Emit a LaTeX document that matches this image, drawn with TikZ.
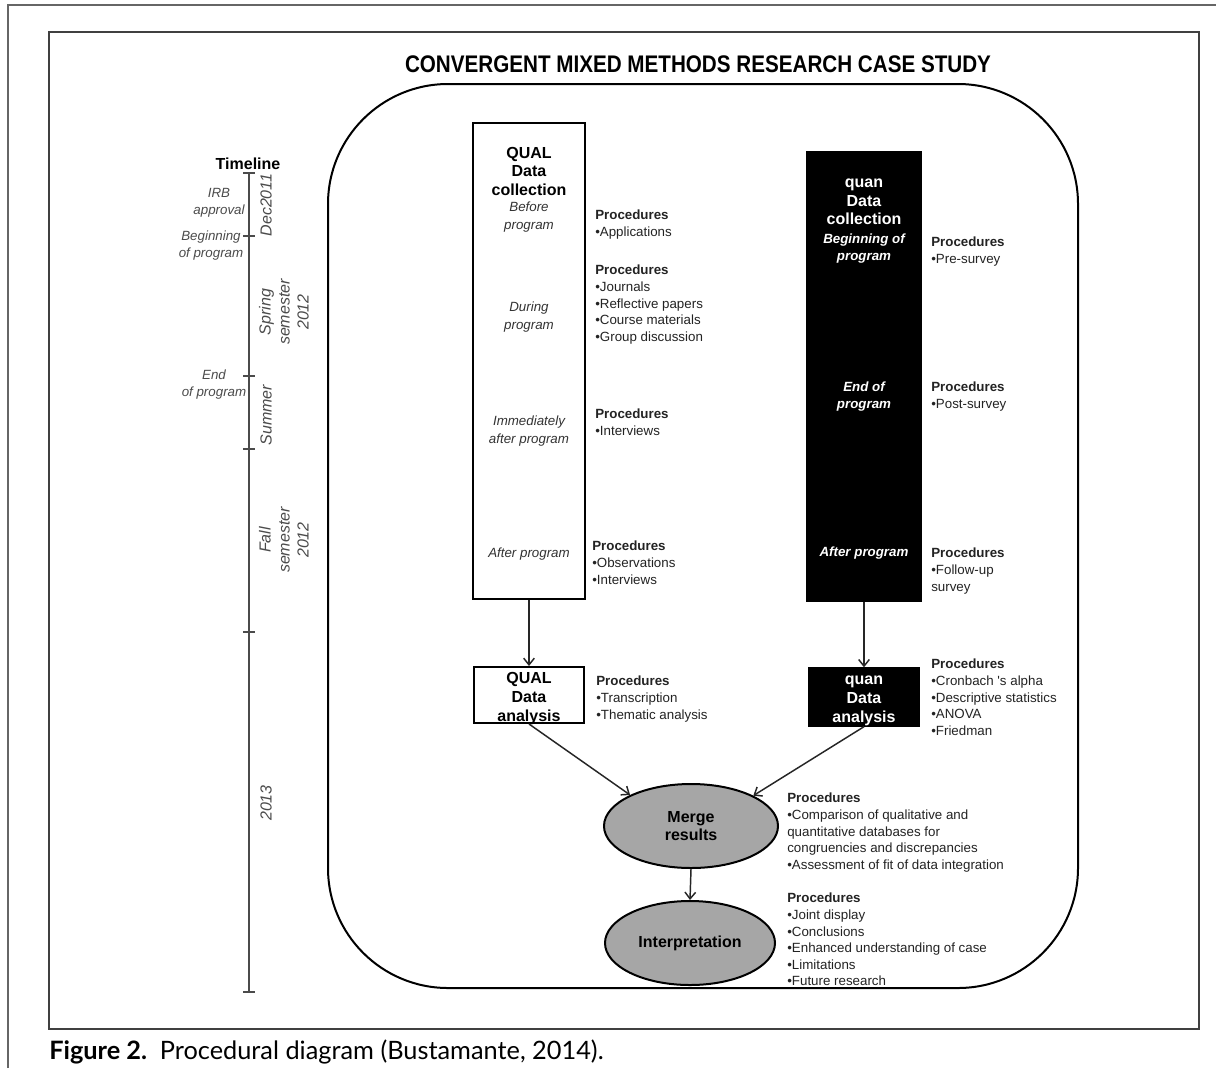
\documentclass[tikz,border=0pt]{standalone}
\usepackage{fontspec}
\setmainfont{Liberation Sans}
\newfontfamily\captionfam{Lato}
\usetikzlibrary{arrows.meta,shapes.geometric}
\definecolor{ellgray}{RGB}{166,166,166}
\definecolor{tlgray}{RGB}{75,75,75}
\definecolor{ink}{RGB}{35,35,35}

\begin{document}
\begin{tikzpicture}[x=0.75pt,y=-0.75pt,
  proc/.style={anchor=north west, inner sep=0pt, align=left, text=ink,
               font=\fontsize{10}{12.4}\selectfont},
  stage/.style={anchor=north, inner sep=0pt, align=center, text=black!80,
               font=\fontsize{10}{13}\selectfont\itshape},
  qstage/.style={anchor=north, inner sep=0pt, align=center, text=white,
               font=\fontsize{10}{12.6}\selectfont\bfseries\itshape},
  heading/.style={anchor=north, inner sep=0pt, align=center,
               font=\fontsize{12}{13.9}\selectfont\bfseries},
  qualbox/.style={draw=black, line width=1.5pt, fill=white, inner sep=0pt},
  quanbox/.style={draw=black, line width=1pt, fill=black, inner sep=0pt},
  antext/.style={anchor=north, inner sep=0pt, align=center,
               font=\fontsize{12}{14.25}\selectfont\bfseries},
  result/.style={ellipse, draw=black, line width=1.5pt, fill=ellgray, inner sep=0pt,
               align=center, font=\fontsize{12}{13.5}\selectfont\bfseries},
  flow/.style={draw=black!85, line width=1.1pt, -{Straight Barb[length=5pt,width=8pt]}},
  tl/.style={inner sep=0pt, align=center, text=tlgray,
               font=\fontsize{10}{12.6}\selectfont\itshape},
  tlr/.style={inner sep=0pt, align=center, text=tlgray, rotate=90,
               font=\fontsize{12}{14.25}\selectfont\itshape},
]
\useasboundingbox (0,0) rectangle (1216,1068);
\fill[white] (0,0) rectangle (1216,1068);

% page frames
\draw[black!60, line width=1.3pt] (8,1068) -- (8,5) -- (1216,5);
\draw[black!75, line width=1.5pt] (49,32) rectangle (1199,1029);

% title and study frame
\node[inner sep=0pt, font=\fontsize{18}{18}\selectfont\bfseries, xscale=0.86] (title)
  at (698,64) {CONVERGENT MIXED METHODS RESEARCH CASE STUDY};
\draw[black, line width=1.5pt, rounded corners=90pt] (328,84) rectangle (1078,988);

% timeline
\draw[tlgray, line width=1.3pt] (249,173) -- (249,992);
\foreach \y in {173,236,376,449,632,992}
  \draw[tlgray, line width=1.1pt] (243,\y) -- (255,\y);
\node[inner sep=0pt, font=\fontsize{12}{12}\selectfont\bfseries] (tlhead) at (248,164) {Timeline};
\node[tl, anchor=north] (irb) at (219,188) {IRB\\approval};
\node[tl, anchor=north] (begin) at (211,231) {Beginning\\of program};
\node[tl, anchor=north] (end) at (214,370) {End\\of program};
\node[tlr] (dec) at (266,205) {Dec2011};
\node[tlr] (spring) at (284,312) {Spring\\semester\\2012};
\node[tlr] (summer) at (266,415) {Summer};
\node[tlr] (fall) at (284,540) {Fall\\semester\\2012};
\node[tlr] (y2013) at (266,803) {2013};

% QUAL data collection
\node[qualbox, minimum width=84pt, minimum height=357pt] (qualc) at (529,361) {};
\node[heading] (qualhead) at (529,147) {QUAL\\Data\\collection};
\node[stage] (qs1) at (529,202) {Before\\program};
\node[stage] (qs2) at (529,302) {During\\program};
\node[stage] (qs3) at (529,416) {Immediately\\after program};
\node[stage] (qs4) at (529,548) {After program};

\node[proc] (qp1) at (595,210) {\textbf{Procedures}\\•Applications};
\node[proc] (qp2) at (595,265) {\textbf{Procedures}\\•Journals\\•Reflective papers\\•Course materials\\•Group discussion};
\node[proc] (qp3) at (595,409) {\textbf{Procedures}\\•Interviews};
\node[proc] (qp4) at (592,541) {\textbf{Procedures}\\•Observations\\•Interviews};

% quan data collection
\node[quanbox, minimum width=85.5pt, minimum height=336.75pt] (quanc) at (864,376.5) {};
\node[heading, text=white] (quanhead) at (864,179) {quan\\Data\\collection};
\node[qstage] (ns1) at (864,234) {Beginning of\\program};
\node[qstage] (ns2) at (864,382) {End of\\program};
\node[qstage] (ns3) at (864,547) {After program};

\node[proc] (np1) at (931,237) {\textbf{Procedures}\\•Pre-survey};
\node[proc] (np2) at (931,382) {\textbf{Procedures}\\•Post-survey};
\node[proc] (np3) at (931,548) {\textbf{Procedures}\\•Follow-up\\survey};

% data analysis
\node[qualbox, minimum width=82.5pt, minimum height=42pt] (qualan) at (529,695) {};
\node[antext] (qualantxt) at (529,672) {QUAL\\Data\\analysis};
\node[quanbox, minimum width=82.5pt, minimum height=43.5pt] (quanan) at (864,697) {};
\node[antext, text=white] (quanantxt) at (864,676) {quan\\Data\\analysis};
\node[proc] (ap1) at (596,676) {\textbf{Procedures}\\•Transcription\\•Thematic analysis};
\node[proc] (ap2) at (931,659) {\textbf{Procedures}\\•Cronbach \textquotesingle s alpha\\•Descriptive statistics\\•ANOVA\\•Friedman};

% merging and interpretation
\node[result, minimum width=130.5pt, minimum height=63pt] (merge) at (691,826) {Merge\\results};
\node[result, minimum width=127.5pt, minimum height=63pt] (interp) at (690,943) {Interpretation};
\node[proc] (mp) at (787,793) {\textbf{Procedures}\\•Comparison of qualitative and\\quantitative databases for\\congruencies and discrepancies\\•Assessment of fit of data integration};
\node[proc] (ip) at (787,893) {\textbf{Procedures}\\•Joint display\\•Conclusions\\•Enhanced understanding of case\\•Limitations\\•Future research};

% connectors
\draw[flow] (qualc.south) -- (qualan.north);
\draw[flow] (quanc.south) -- (quanan.north);
\draw[flow] (qualan.south) -- (merge.153);
\draw[flow] (quanan.south) -- (merge.26);
\draw[flow] (merge.south) -- (interp.north);

% caption
\node[anchor=base west, inner sep=0pt, font=\captionfam\fontsize{19}{20}\selectfont] (caption)
  at (49,1059) {\textbf{Figure 2.}\hspace{0.5em}Procedural diagram (Bustamante, 2014).};
\end{tikzpicture}
\end{document}
